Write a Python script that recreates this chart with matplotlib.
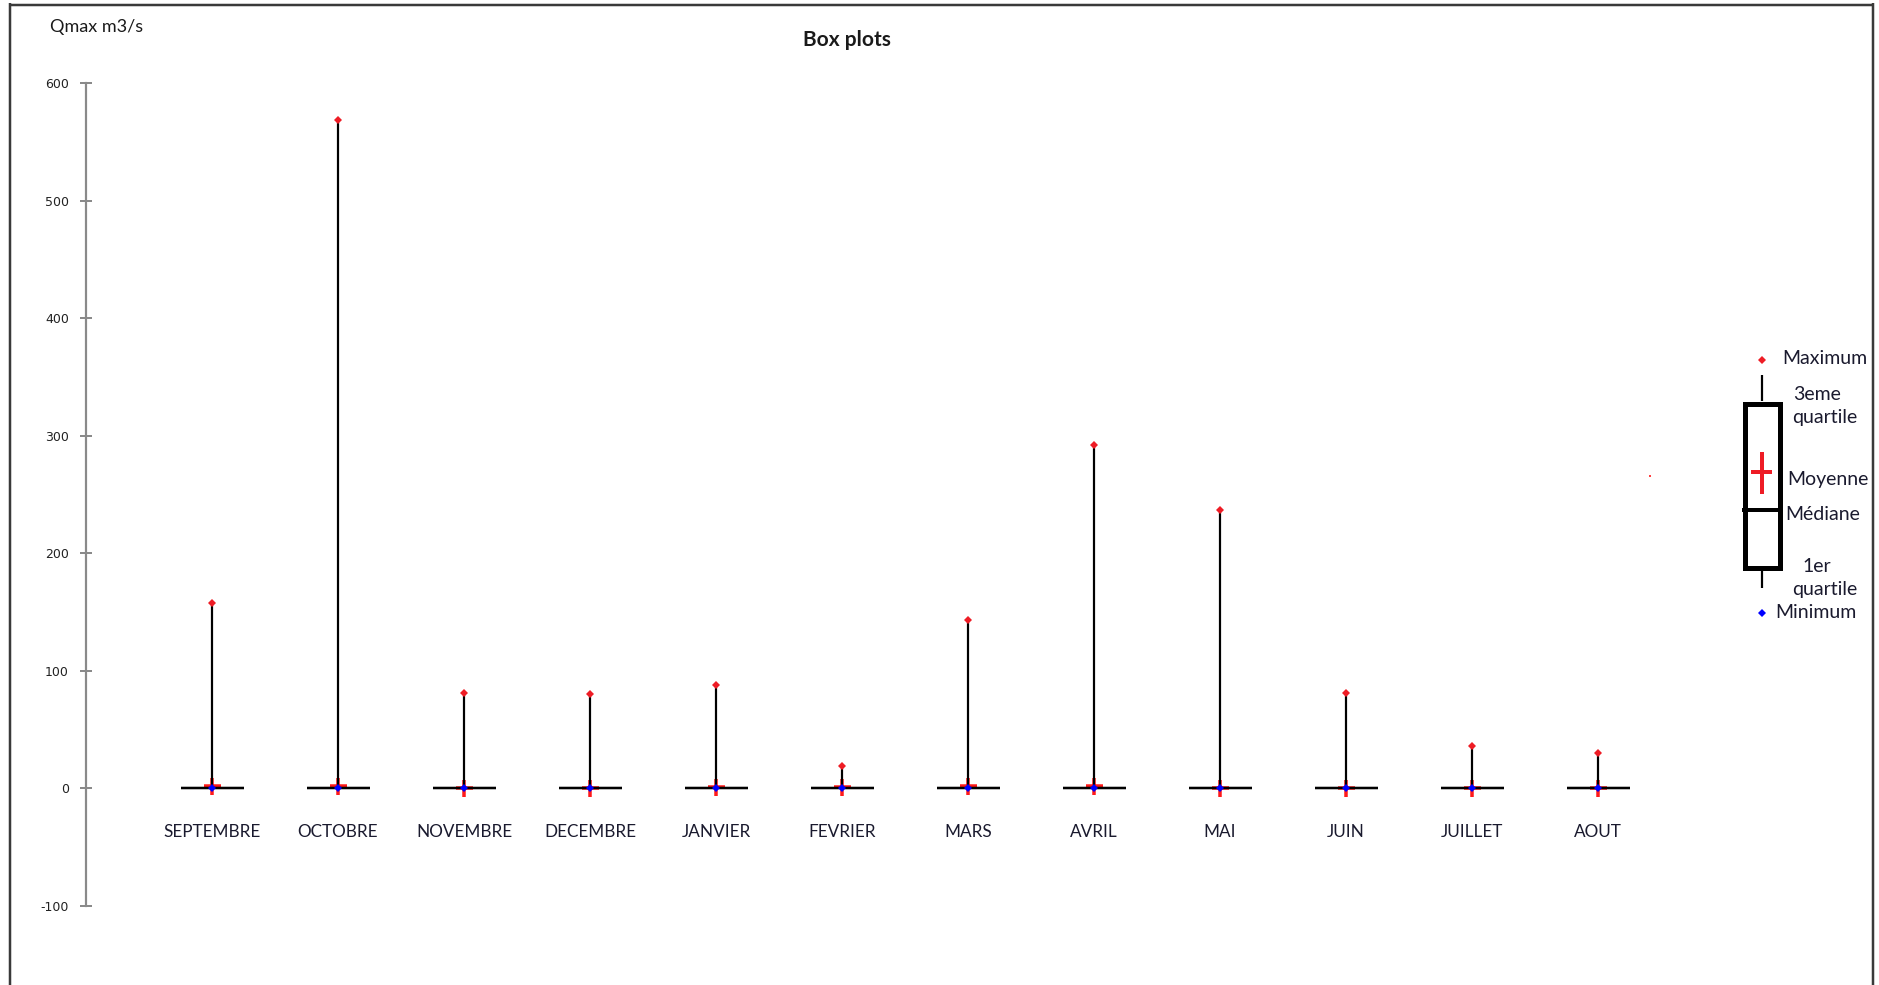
import matplotlib
matplotlib.use("Agg")
import matplotlib.pyplot as plt
from matplotlib.lines import Line2D
from matplotlib.patches import Rectangle
import numpy as np

# Monthly Qmax statistics (m3/s)
months = ["SEPTEMBRE", "OCTOBRE", "NOVEMBRE", "DECEMBRE", "JANVIER", "FEVRIER",
          "MARS", "AVRIL", "MAI", "JUIN", "JUILLET", "AOUT"]
minimum = [0, 0, 0, 0, 0, 0, 0, 0, 0, 0, 0, 0]
quartile1 = [0, 0, 0, 0, 0, 0, 0, 0, 0, 0, 0, 0]
median = [0.1, 0.1, 0, 0, 0.1, 0.1, 0.1, 0.1, 0, 0, 0, 0]
quartile3 = [0.5, 0.6, 0.2, 0.2, 0.4, 0.4, 0.5, 0.5, 0.2, 0.2, 0.2, 0.2]
maximum = [158, 569, 81, 80, 88, 19, 143, 292, 237, 81, 36, 30]
mean = [1.6, 1.8, 0.3, 0.3, 1.2, 1.0, 1.5, 1.6, 0.3, 0.3, 0.3, 0.3]
yticks = [-100, 0, 100, 200, 300, 400, 500, 600]

W, H = 1879, 985
DPI = 100
PX = 72.0 / DPI  # points per pixel

fig = plt.figure(figsize=(W / DPI, H / DPI), dpi=DPI)
fig.patch.set_facecolor("white")


def fx(x):
    return x / W


def fy(y):
    return 1 - y / H


# plot area: x=0 at the vertical axis, one unit per month
x0_px, unit_px = 86, 126
y_top_px, y_bot_px = 83.3, 905.7
n_units = 13
ax = fig.add_axes([fx(x0_px), fy(y_bot_px), unit_px * n_units / W,
                   (y_bot_px - y_top_px) / H])
ax.set_xlim(0, n_units)
ax.set_ylim(-100, 600)
ax.patch.set_alpha(0)

for s in ["top", "right", "bottom"]:
    ax.spines[s].set_visible(False)
ax.spines["left"].set_color("#8a8a8a")
ax.spines["left"].set_linewidth(2.2 * PX)
ax.set_xticks([])
ax.set_yticks(yticks)
ax.set_yticklabels([str(v) if v >= 0 else "-" + str(abs(v)) for v in yticks],
                   fontsize=9, family="DejaVu Sans", color="#222222")
ax.tick_params(axis="y", direction="inout", length=12 * PX, width=2 * PX,
               color="#8a8a8a", pad=8)

xs = np.arange(1, len(months) + 1)

# mean crosses (beneath the lines)
ax.plot(xs, mean, linestyle="none", marker="+", markersize=17 * PX,
        markeredgewidth=3.5 * PX, color="#ff1a1a", zorder=2)

# whiskers from minimum to maximum
ax.vlines(xs, minimum, maximum, colors="black", linewidth=2.2 * PX, zorder=3)

# boxes (quartile 1 to quartile 3) and median lines
for x, q1, q3 in zip(xs, quartile1, quartile3):
    ax.add_patch(Rectangle((x - 0.25, q1), 0.5, q3 - q1, fill=False,
                           edgecolor="black", linewidth=2.3 * PX, zorder=3))
ax.hlines(median, xs - 0.25, xs + 0.25, colors="black", linewidth=2.3 * PX, zorder=3)

# minimum and maximum markers
ax.plot(xs, minimum, linestyle="none", marker="D", markersize=6 * PX,
        color="#0000ff", markeredgewidth=0, zorder=4)
ax.plot(xs, maximum, linestyle="none", marker="D", markersize=6 * PX,
        color="#ee1c25", markeredgewidth=0, zorder=4)

# isolated mean point to the right of the series
ax.plot([12.41], [266], linestyle="none", marker="s", markersize=2.5 * PX,
        color="#ff4040", markeredgewidth=0, zorder=4)

# month labels under the boxes
for x, name in zip(xs, months):
    ax.text(x, -37, name, ha="center", va="center", fontsize=12.3,
            family="Lato", color="#1a1a2e")

# title and axis caption
fig.text(fx(847), fy(40), "Box plots", ha="center", va="center",
         fontsize=15, family="Lato", fontweight="bold", color="#1a1a1a")
fig.text(fx(50), fy(27), "Qmax m3/s", ha="left", va="center",
         fontsize=13, family="Lato", color="#1a1a1a")

# explanatory key on the right
def fig_line(xa, ya, xb, yb, color="black", lw=2.0):
    fig.add_artist(Line2D([fx(xa), fx(xb)], [fy(ya), fy(yb)], color=color,
                          linewidth=lw * PX, solid_capstyle="butt",
                          transform=fig.transFigure))

key_x = 1762
fig_line(key_x, 375, key_x, 401, lw=2.2)
fig_line(key_x, 570, key_x, 588, lw=2.2)
fig.add_artist(Rectangle((fx(1744.5), fy(568)), (1779.5 - 1744.5) / W,
                         (568 - 403.5) / H, fill=False, edgecolor="black",
                         linewidth=5 * PX, transform=fig.transFigure))
fig_line(1742, 510, 1782, 510, lw=4)
fig_line(1751, 472, 1772, 472, color="#ee1c25", lw=4)
fig_line(1761.5, 452, 1761.5, 494, color="#ee1c25", lw=4)
fig.add_artist(Line2D([fx(key_x)], [fy(360)], marker="D", markersize=6 * PX,
                      color="#ee1c25", markeredgewidth=0, linestyle="none",
                      transform=fig.transFigure))
fig.add_artist(Line2D([fx(key_x)], [fy(613)], marker="D", markersize=6 * PX,
                      color="#0000ff", markeredgewidth=0, linestyle="none",
                      transform=fig.transFigure))

key_kw = dict(fontsize=14, family="Lato", color="#1a1a2e", va="center")
fig.text(fx(1782), fy(358), "Maximum", ha="left", **key_kw)
fig.text(fx(1817), fy(395), "3eme", ha="center", **key_kw)
fig.text(fx(1825), fy(418), "quartile", ha="center", **key_kw)
fig.text(fx(1787), fy(480), "Moyenne", ha="left", **key_kw)
fig.text(fx(1785), fy(514), "Médiane", ha="left", **key_kw)
fig.text(fx(1817), fy(566), "1er", ha="center", **key_kw)
fig.text(fx(1825), fy(590), "quartile", ha="center", **key_kw)
fig.text(fx(1775), fy(613), "Minimum", ha="left", **key_kw)

# outer frame of the chart
fig_line(10, 3, 10, H + 5, color="#3a3a3a", lw=2.5)
fig_line(9, 5, 1874, 5, color="#3a3a3a", lw=2.5)
fig_line(1873, 3, 1873, H + 5, color="#3a3a3a", lw=2.5)

fig.savefig("out.png", dpi=DPI, facecolor="white")
